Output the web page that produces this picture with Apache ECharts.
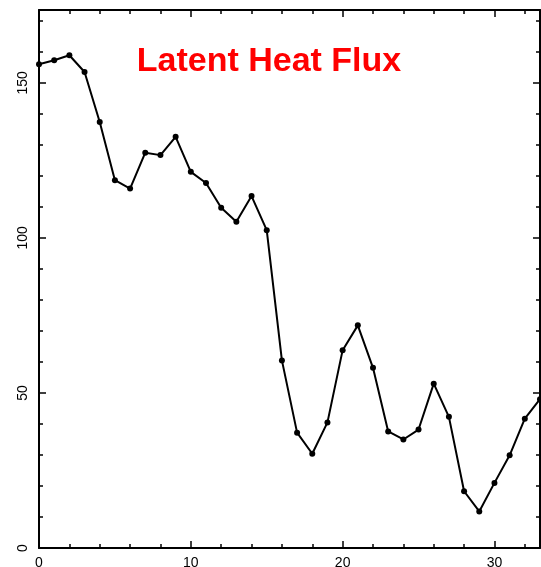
<!DOCTYPE html>
<html>
<head>
<meta charset="utf-8">
<script src="https://cdn.jsdelivr.net/npm/echarts@6/dist/echarts.min.js"></script>
<style>
  html, body { margin: 0; padding: 0; background: #fff; }
  #chart { width: 541px; height: 567px; }
</style>
</head>
<body>
<div id="chart"></div>
<script>
// Day index along the x axis
const days = [0,1,2,3,4,5,6,7,8,9,10,11,12,13,14,15,16,17,18,19,20,21,22,23,24,25,26,27,28,29,30,31,32,33];
// Latent heat flux values
const flux = [156.0,157.3,158.9,153.5,137.4,118.6,115.9,127.5,126.7,132.6,121.3,117.7,109.7,105.2,113.5,102.5,
              60.5,37.2,30.4,40.5,63.8,71.8,58.1,37.6,35.0,38.2,53.0,42.3,18.3,11.8,21.0,29.9,41.7,48.0];
const titleText = 'Latent Heat Flux';

const points = days.map((d, i) => [d, flux[i]]);

const chart = echarts.init(document.getElementById('chart'), null, { renderer: 'canvas' });

const axisLineStyle = { color: '#000', width: 2 };
const fontFamily = 'Liberation Sans, Arial, sans-serif';

function xAxisDef(pos, showLabels) {
  return {
    type: 'value', position: pos, min: 0, max: 33, interval: 10,
    axisLine: { show: true, onZero: false, lineStyle: axisLineStyle },
    axisTick: { show: true, inside: true, length: 7, lineStyle: { color: '#000', width: 1.5 } },
    minorTick: { show: true, splitNumber: 5, length: 4, lineStyle: { color: '#000', width: 1.5 } },
    axisLabel: { show: showLabels, color: '#000', fontSize: 14, fontFamily, margin: 8, showMaxLabel: false },
    splitLine: { show: false }
  };
}
function yAxisDef(pos, showLabels) {
  return {
    type: 'value', position: pos, min: 0, max: 173.5, interval: 50,
    axisLine: { show: true, onZero: false, lineStyle: axisLineStyle },
    axisTick: { show: true, inside: true, length: 7, lineStyle: { color: '#000', width: 1.5 } },
    minorTick: { show: true, splitNumber: 5, length: 4, lineStyle: { color: '#000', width: 1.5 } },
    axisLabel: { show: showLabels, color: '#000', fontSize: 14, fontFamily, rotate: 90, margin: 9, showMaxLabel: false },
    splitLine: { show: false }
  };
}

chart.setOption({
  animation: false,
  backgroundColor: '#fff',
  title: {
    text: titleText, left: 264, top: 40, textAlign: 'center',
    textStyle: { color: '#ff0000', fontSize: 34, fontWeight: 'bold', fontFamily }
  },
  grid: { left: 39, right: 1, top: 10, bottom: 19, containLabel: false, outerBoundsMode: 'none' },
  xAxis: [xAxisDef('bottom', true), xAxisDef('top', false)],
  yAxis: [yAxisDef('left', true), yAxisDef('right', false)],
  series: [{
    type: 'line',
    data: points,
    xAxisIndex: 0, yAxisIndex: 0,
    lineStyle: { color: '#000', width: 2 },
    symbol: 'circle', symbolSize: 6,
    itemStyle: { color: '#000' },
    clip: false
  }]
});
</script>
</body>
</html>
